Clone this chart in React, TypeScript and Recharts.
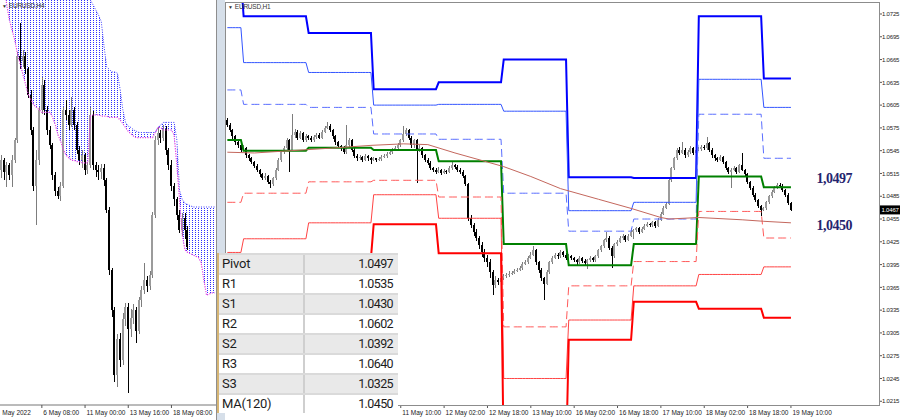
import React from "react";
import { ComposedChart, Bar, Line, Area, XAxis, YAxis, ReferenceDot, ReferenceLine } from "recharts";

// ---------- H1 candles (EURUSD,H1), [open, high, low, close] in pips above 1.0000 ----------
const h1Ohlc: number[][] = [
  [585,588,576,579],[579,581,569,572],[572,574,561,564],[564,566,553,556],[556,558,549,552],
  [552,554,543,546],[546,552,544,549],[549,550,536,539],[539,541,532,535],[535,537,527,530],
  [530,532,522,525],[525,527,517,520],[520,521,511,514],[514,516,506,509],[509,515,506,512],
  [512,513,501,504],[504,507,496,501],[501,511,499,509],[509,522,507,520],[520,535,518,533],
  [533,545,530,543],[543,551,540,549],[549,562,546,559],[559,561,517,546],[546,593,544,566],
  [566,574,562,570],[570,572,559,562],[562,571,560,568],[568,569,556,559],[559,567,557,564],
  [564,566,559,562],[562,564,557,559],[559,566,557,563],[563,568,561,566],[566,568,560,562],
  [562,572,561,570],[570,578,568,575],[575,583,573,578],[578,580,570,572],[572,574,561,564],
  [564,566,553,556],[556,558,548,551],[551,553,545,549],[549,551,540,543],[543,579,541,552],
  [552,562,550,559],[559,560,543,546],[546,548,535,538],[538,540,532,535],[535,539,533,537],
  [537,538,530,533],[533,540,531,538],[538,539,532,535],[535,537,527,533],[533,537,531,535],
  [535,536,530,533],[533,537,531,534],[534,539,532,537],[537,540,535,538],[538,543,536,541],
  [541,545,539,543],[543,548,541,546],[546,551,544,549],[549,555,547,552],[552,561,550,559],
  [559,577,557,567],[567,575,564,572],[572,574,559,562],[562,564,549,552],[552,561,549,559],
  [559,561,502,546],[546,552,543,549],[549,550,536,539],[539,541,530,533],[533,535,526,529],
  [529,531,519,522],[522,524,517,520],[520,522,514,517],[517,523,515,520],[520,521,513,516],
  [516,521,514,518],[518,520,514,517],[517,525,515,522],[522,530,520,526],[526,528,521,524],
  [524,526,517,520],[520,522,514,517],[517,519,509,512],[512,513,498,501],[501,503,452,456],
  [456,460,443,447],[447,450,433,438],[438,442,426,430],[430,433,416,421],[421,425,405,412],
  [412,416,398,404],[404,408,392,398],[398,402,378,385],[385,388,355,368],[368,380,364,375],
  [375,377,368,372],[372,380,370,377],[377,383,375,380],[380,384,378,381],[381,386,379,383],
  [383,387,381,384],[384,389,382,387],[387,391,385,388],[388,393,386,390],[390,398,388,396],
  [396,401,394,398],[398,406,396,404],[404,411,402,408],[408,419,406,414],[414,416,395,398],
  [398,400,384,388],[388,390,373,377],[377,379,348,370],[370,388,368,385],[385,400,383,398],
  [398,406,396,404],[404,410,402,408],[408,410,403,406],[406,414,404,412],[412,413,405,408],
  [408,410,401,404],[404,409,402,406],[406,408,401,404],[404,405,398,401],[401,403,395,398],
  [398,406,396,404],[404,405,397,400],[400,402,394,397],[397,403,389,401],[401,406,399,404],
  [404,405,398,401],[401,408,399,406],[406,416,404,414],[414,421,412,419],[419,429,417,427],
  [427,438,425,430],[430,432,414,417],[417,419,390,406],[406,424,404,422],[422,428,420,425],
  [425,432,423,430],[430,435,428,433],[433,434,425,427],[427,435,426,433],[433,443,431,438],
  [438,442,429,440],[440,445,438,443],[443,444,435,438],[438,444,436,442],[442,448,440,446],
  [446,451,444,448],[448,450,444,447],[447,453,445,451],[451,452,443,446],[446,456,444,454],
  [454,464,452,462],[462,472,460,470],[470,477,468,475],[475,508,473,506],[506,524,504,522],
  [522,537,520,535],[535,549,533,546],[546,550,539,542],[542,556,540,546],[546,548,536,539],
  [539,546,537,543],[543,551,541,548],[548,550,539,542],[542,549,540,546],[546,550,544,547],
  [547,553,545,550],[550,552,546,548],[548,563,546,555],[555,557,543,546],[546,548,536,539],
  [539,541,532,535],[535,537,530,533],[533,539,531,537],[537,538,527,530],[530,531,519,522],
  [522,524,514,517],[517,522,496,520],[520,525,518,522],[522,524,514,517],[517,528,515,526],
  [526,542,518,520],[520,521,511,514],[514,515,501,504],[504,505,493,496],[496,498,484,487],
  [487,489,477,480],[480,482,469,472],[472,474,459,467],[467,471,465,469],[469,479,467,477],
  [477,487,475,485],[485,493,483,491],[491,498,489,496],[496,502,494,500],[500,503,497,499],
  [499,501,490,493],[493,495,484,487],[487,489,474,476],[476,478,465,467]
];

// ---------- H4 candles (EURUSD,H4), [open, high, low, close] in pips above 1.0000 ----------
const h4Ohlc: number[][] = [
  [528,540,522,536],[536,538,520,527],[527,535,515,532],[532,534,520,524],[524,540,515,536],
  [536,554,534,552],[552,622,550,619],[619,645,608,615],[615,623,610,619],[619,622,604,608],
  [608,610,585,588],[588,592,556,560],[560,562,512,516],[516,544,485,536],[536,578,532,576],
  [576,602,573,596],[596,600,572,576],[576,579,556,560],[560,563,545,548],[548,550,520,524],
  [524,527,508,512],[512,515,505,508],[508,519,504,516],[516,578,514,576],[576,584,568,572],
  [572,576,560,564],[564,586,562,576],[576,578,560,564],[564,566,541,544],[544,547,532,536],
  [536,544,530,540],[540,542,524,528],[528,535,525,532],[532,578,530,572],[572,575,528,532],
  [532,535,523,528],[528,532,520,527],[527,533,521,530],[530,533,516,520],[520,522,494,497],
  [497,499,445,449],[449,451,412,417],[417,420,360,366],[366,398,356,394],[394,399,372,378],
  [378,415,374,410],[410,423,405,420],[420,423,352,402],[402,418,396,411],[411,422,406,417],
  [417,420,391,401],[401,428,398,425],[425,436,420,433],[433,455,430,441],[441,444,432,436],
  [436,448,433,445],[445,495,443,493],[493,555,490,552],[552,562,548,558],[558,560,550,554],
  [554,564,551,561],[561,563,540,544],[544,546,528,532],[532,536,512,516],[516,518,500,505],
  [505,507,489,493],[493,497,478,481],[481,494,476,490],[490,494,474,481],[481,484,465,467]
];

// Ichimoku cloud boundaries on the H4 chart (pips above 1.0000), one per H4 bar
const senkouA: number[] = [
  687,675,659,647,639,631,620,612,604,596,588,584,580,578,576,574,574,574,574,570,
  564,556,551,544,540,538,536,536,535,535,534,534,534,571,572,572,572,571,571,571,
  570,570,570,570,568,565,562,559,557,555,554,554,554,554,554,554,554,558,562,562,
  560,560,560,560,556,532,505,477,465,463,462,461,460,459,455,441,429,430,431,431
];
const senkouB: number[] = [
  742,742,742,740,740,738,738,736,736,734,734,730,730,728,728,726,722,722,718,718,
  716,712,712,708,708,704,700,700,696,690,684,676,668,663,659,655,651,646,627,610,
  608,606,606,605,592,576,566,563,562,560,559,558,558,558,558,558,558,558,562,564,
  566,566,566,566,566,552,512,505,502,501,500,499,499,499,499,499,499,499,499,499
];

// ---------- Daily pivot levels (6 May, 9, 10, 11, 12, 13, 16, 17, 18, 19 May) ----------
const dayStartBar = [0, 6, 30, 54, 78, 102, 126, 150, 174, 198];
const lastH1Bar = 208;
const r3Levels = [1.0773, 1.0722, 1.0700, 1.0626, 1.0635, 1.0665, 1.0510, 1.0509, 1.0722, 1.0640];
const r2Levels = [1.0707, 1.0661, 1.0648, 1.0605, 1.0606, 1.0597, 1.0466, 1.0477, 1.0639, 1.0602];
const r1Levels = [1.0625, 1.0606, 1.0602, 1.0567, 1.0560, 1.0489, 1.0439, 1.0455, 1.0593, 1.0535];
const pLevels  = [1.0559, 1.0545, 1.0549, 1.0546, 1.0531, 1.0422, 1.0394, 1.0422, 1.0511, 1.0497];
const s1Levels = [1.0477, 1.0489, 1.0504, 1.0506, 1.0484, 1.0313, 1.0367, 1.0399, 1.0465, 1.0430];
const s2Levels = [1.0411, 1.0429, 1.0450, 1.0487, 1.0456, 1.0245, 1.0322, 1.0367, 1.0382, 1.0392];
const s3Levels = [1.0329, 1.0374, 1.0404, 1.0448, 1.0410, 1.0138, 1.0296, 1.0346, 1.0337, 1.0325];

// MA(120) read at a few bars
const maPoints: number[][] = [
  [0, 1.0543], [10, 1.0542], [28, 1.0546], [41, 1.0549], [53, 1.0552], [65, 1.0554], [74, 1.0553],
  [84, 1.0542], [96, 1.0530], [102, 1.0524], [112, 1.0511], [123, 1.0495], [137, 1.0481],
  [149, 1.0469], [160, 1.0457], [163, 1.0455], [174, 1.0457], [190, 1.0454], [198, 1.0452], [208, 1.0450]
];

// ---------- axes ----------
const H1_SLOTS = 241;
const H4_SLOTS = 80;
const h1TimeTicks = [64, 80, 96, 112, 128, 144, 160, 176, 192, 208];
const h1TimeLabels = ["11 May 10:00", "12 May 02:00", "12 May 18:00", "13 May 10:00", "16 May 02:00",
  "16 May 18:00", "17 May 10:00", "18 May 02:00", "18 May 18:00", "19 May 10:00"];
const h4TimeTicks = [0, 15, 31, 47, 63];
const h4TimeLabels = ["May 2022", "6 May 08:00", "11 May 00:00", "13 May 16:00", "18 May 08:00"];
const priceTicks = [1.0215, 1.0245, 1.0275, 1.0305, 1.0335, 1.0365, 1.0395, 1.0425, 1.0455, 1.0485,
  1.0515, 1.0545, 1.0575, 1.0605, 1.0635, 1.0665, 1.0695, 1.0725];
const h1Domain = [1.02101, 1.07408];
const h4Domain = [1.03421, 1.0663];
const lastPrice = 1.0467;
const pivotNote = { value: 1.0497, text: "1,0497", bar: 224 };
const maNote = { value: 1.0450, text: "1,0450", bar: 224 };

// ---------- table ----------
const tableNames = ["Pivot", "R1", "S1", "R2", "S2", "R3", "S3", "MA(120)"];
const tableValues = [1.0497, 1.0535, 1.0430, 1.0602, 1.0392, 1.0640, 1.0325, 1.0450];

const pip = (v: number) => 1 + v / 10000;

const levelSets: Record<string, number[]> = {
  r3: r3Levels, r2: r2Levels, r1: r1Levels, p: pLevels, s1: s1Levels, s2: s2Levels, s3: s3Levels,
};

const h1Data: any[] = [];
for (let i = 0; i < H1_SLOTS; i++) {
  const row: any = { i };
  const k = h1Ohlc[i];
  if (k) {
    row.o = pip(k[0]); row.h = pip(k[1]); row.l = pip(k[2]); row.c = pip(k[3]);
    row.range = [row.l, row.h];
  }
  if (i <= lastH1Bar) {
    let d = 0;
    while (d + 1 < dayStartBar.length && dayStartBar[d + 1] <= i) d++;
    Object.keys(levelSets).forEach((key) => { row[key] = levelSets[key][d]; });
  }
  h1Data.push(row);
}
maPoints.forEach(([i, v]) => { h1Data[i].ma = v; });

const h4Data: any[] = [];
for (let j = 0; j < H4_SLOTS; j++) {
  const row: any = { j };
  const k = h4Ohlc[j];
  if (k) {
    row.o = pip(k[0]); row.h = pip(k[1]); row.l = pip(k[2]); row.c = pip(k[3]);
    row.range = [row.l, row.h];
  }
  row.spanA = pip(senkouA[j]);
  row.spanB = pip(senkouB[j]);
  row.cloud = [row.spanA, row.spanB];
  h4Data.push(row);
}

const makeCandle = (upBody: string, upWick: string, downColor: string) => (props: any) => {
  const { x, y, width, height, payload } = props;
  if (!payload || payload.o == null || !isFinite(y) || !isFinite(height)) return <g />;
  const top = Math.min(y, y + height);
  const bot = Math.max(y, y + height);
  const span = payload.h - payload.l;
  const at = (v: number) => (span > 0 ? top + ((payload.h - v) / span) * (bot - top) : top);
  const yo = at(payload.o);
  const yc = at(payload.c);
  const up = payload.c >= payload.o;
  const bx = Math.round(x);
  const bodyTop = Math.min(yo, yc);
  const bodyH = Math.max(1, Math.abs(yc - yo));
  return (
    <g>
      <rect x={bx + 1} y={top} width={1} height={Math.max(1, bot - top)} fill={up ? upWick : downColor} shapeRendering="crispEdges" />
      <rect x={bx} y={bodyTop} width={2} height={bodyH} fill={up ? upBody : downColor} shapeRendering="crispEdges" />
    </g>
  );
};
const H1Candle = makeCandle("#9b9b9b", "#7d7d7d", "#000000");
const H4Candle = makeCandle("#9b9b9b", "#7d7d7d", "#000000");

const axisFont = "'Liberation Sans', Arial, sans-serif";

const H1TimeTick = (props: any) => {
  const { x, y, payload } = props;
  const idx = h1TimeTicks.indexOf(payload.value);
  return (
    <text x={x + 1.5} y={y + 4.5} fontSize={6.5} fill="#222" fontFamily={axisFont}>
      {h1TimeLabels[idx]}
    </text>
  );
};

const H4TimeTick = (props: any) => {
  const { x, y, payload } = props;
  const idx = h4TimeTicks.indexOf(payload.value);
  if (idx === 0) {
    return (
      <text x={x + 29.5} y={y + 4.5} fontSize={6.5} fill="#222" fontFamily={axisFont} textAnchor="end">
        {h4TimeLabels[idx]}
      </text>
    );
  }
  return (
    <g>
      <line x1={x} x2={x} y1={y - 5} y2={y - 2} stroke="#555" />
      <text x={x + 1.5} y={y + 4.5} fontSize={6.5} fill="#222" fontFamily={axisFont}>
        {h4TimeLabels[idx]}
      </text>
    </g>
  );
};

const PriceTick = (props: any) => {
  const { x, y, payload } = props;
  return (
    <text x={x} y={y + 2.2} fontSize={6} letterSpacing={-0.2} fill="#222" fontFamily={axisFont}>
      {Number(payload.value).toFixed(4)}
    </text>
  );
};

const NoteLabel = (dy: number, text: string) => (p: any) => {
  const vb = p.viewBox || {};
  return (
    <text x={vb.x} y={(vb.y || 0) + dy} textAnchor="middle" dominantBaseline="central"
      fontFamily="'Liberation Serif', 'Times New Roman', serif" fontWeight="bold" fontSize={14}
      letterSpacing={-0.5} fill="#24246e">
      {text}
    </text>
  );
};

const PriceBadge = (p: any) => {
  const vb = p.viewBox || {};
  const right = (vb.x || 0) + (vb.width || 0);
  const y = vb.y || 0;
  return (
    <g>
      <rect x={right + 1} y={y - 4.5} width={30} height={9} fill="#000" />
      <text x={right + 2.5} y={y + 2.2} fontSize={6} letterSpacing={-0.2} fill="#fff" fontFamily={axisFont}>
        {lastPrice.toFixed(4)}
      </text>
    </g>
  );
};

const levelStyles = [
  { key: "r3", color: "#0000ff", w: 2, dash: undefined },
  { key: "r2", color: "#3355ff", w: 1, dash: undefined },
  { key: "r1", color: "#5a6eff", w: 1, dash: "8 4" },
  { key: "p", color: "#008000", w: 2, dash: undefined },
  { key: "s1", color: "#ff5a5a", w: 1, dash: "8 4" },
  { key: "s2", color: "#ff4444", w: 1, dash: undefined },
  { key: "s3", color: "#ff0000", w: 2, dash: undefined },
];

export default function App() {
  return (
    <div style={{ position: "absolute", left: 0, top: 0, width: 900, height: 420, background: "#ffffff", overflow: "hidden", fontFamily: axisFont }}>
      <svg width={0} height={0} style={{ position: "absolute" }}>
        <defs>
          <pattern id="ichiDots" width={3} height={2} patternUnits="userSpaceOnUse">
            <rect x={0} y={0} width={1} height={1} fill="#2f2fff" />
          </pattern>
        </defs>
      </svg>

      {/* Left: EURUSD,H4 with Ichimoku cloud */}
      <div style={{ position: "absolute", left: 0, top: 0 }}>
        <ComposedChart width={216} height={420} data={h4Data} margin={{ top: 0, right: 0, bottom: 0, left: 0 }}>
          <XAxis dataKey="j" type="category" ticks={h4TimeTicks} interval={0} height={15}
            tickLine={false} tickSize={3} tickMargin={2} axisLine={{ stroke: "#777" }} tick={<H4TimeTick />} />
          <YAxis hide width={0} type="number" domain={h4Domain} allowDataOverflow />
          <Area dataKey="cloud" type="linear" fill="url(#ichiDots)" fillOpacity={1} stroke="none" isAnimationActive={false} />
          <Line dataKey="spanB" type="linear" stroke="#3c3cff" strokeWidth={1} strokeDasharray="1 1.5" dot={false} isAnimationActive={false} />
          <Line dataKey="spanA" type="linear" stroke="#e23ce2" strokeWidth={1.2} strokeDasharray="1.2 1.3" dot={false} isAnimationActive={false} />
          <Bar dataKey="range" barSize={2} shape={<H4Candle />} isAnimationActive={false} />
        </ComposedChart>
      </div>
      <div style={{ position: "absolute", left: 2, top: 2, fontSize: 6.5, color: "#333", letterSpacing: -0.2, whiteSpace: "nowrap", lineHeight: "8px" }}>
        <span style={{ fontSize: 5, marginRight: 2 }}>▼</span>EURUSD,H4
      </div>

      {/* separator */}
      <div style={{ position: "absolute", left: 216, top: 0, width: 9, height: 420, background: "#d6dfe9", borderLeft: "1px solid #8e8e8e", boxSizing: "border-box" }} />

      {/* Right: EURUSD,H1 with pivots */}
      <div style={{ position: "absolute", left: 222, top: 0 }}>
        <ComposedChart width={678} height={420} data={h1Data} margin={{ top: 2, right: 0, bottom: 0, left: 4 }}>
          <XAxis dataKey="i" type="category" ticks={h1TimeTicks} interval={0} height={15}
            tickSize={3} tickMargin={2} tickLine={{ stroke: "#555" }} axisLine={false} tick={<H1TimeTick />} />
          <YAxis orientation="right" width={21} type="number" domain={h1Domain} allowDataOverflow
            ticks={priceTicks} interval={0} tickSize={3} tickMargin={0} tickLine={{ stroke: "#555" }}
            axisLine={false} tick={<PriceTick />} />
          {levelStyles.map((s) => (
            <Line key={s.key} dataKey={s.key} type="linear" stroke={s.color} strokeWidth={s.w}
              strokeDasharray={s.dash} dot={false} isAnimationActive={false} />
          ))}
          <Line dataKey="ma" type="linear" stroke="#c4675d" strokeWidth={1} dot={false} connectNulls isAnimationActive={false} />
          <Bar dataKey="range" barSize={2} shape={<H1Candle />} isAnimationActive={false} />
          <ReferenceLine y={lastPrice} stroke="none" label={PriceBadge} />
          <ReferenceDot x={pivotNote.bar} y={pivotNote.value} r={0} fill="none" stroke="none" label={NoteLabel(-9, pivotNote.text)} />
          <ReferenceDot x={maNote.bar} y={maNote.value} r={0} fill="none" stroke="none" label={NoteLabel(3, maNote.text)} />
        </ComposedChart>
      </div>
      <div style={{ position: "absolute", left: 225, top: 2, width: 655, height: 404, border: "1px solid #8c8c8c", boxSizing: "border-box", pointerEvents: "none" }} />
      <div style={{ position: "absolute", left: 228, top: 3, fontSize: 6.5, color: "#333", letterSpacing: -0.2, whiteSpace: "nowrap", lineHeight: "8px" }}>
        <span style={{ fontSize: 5, marginRight: 2 }}>▼</span>EURUSD,H1
      </div>

      {/* Levels table */}
      <div style={{ position: "absolute", left: 217, top: 253, width: 181, background: "#ffffff", borderLeft: "2px solid #d6b574", boxSizing: "border-box", fontFamily: "Roboto, 'Noto Sans', sans-serif", color: "#1c1c1c" }}>
        {tableNames.map((name, r) => (
          <div key={name} style={{ display: "flex", height: 18, borderTop: "2px solid #dadada", background: r % 2 === 0 ? "#e9e9e9" : "#ffffff", alignItems: "center" }}>
            <div style={{ width: 86, paddingLeft: 3, fontSize: 13, letterSpacing: -0.2, borderRight: "2px solid #cfcfcf", height: 18, lineHeight: "18px", boxSizing: "border-box" }}>{name}</div>
            <div style={{ flex: 1, textAlign: "right", paddingRight: 5, fontSize: 12.5, letterSpacing: -0.6, lineHeight: "18px" }}>{tableValues[r].toFixed(4)}</div>
          </div>
        ))}
      </div>
    </div>
  );
}
